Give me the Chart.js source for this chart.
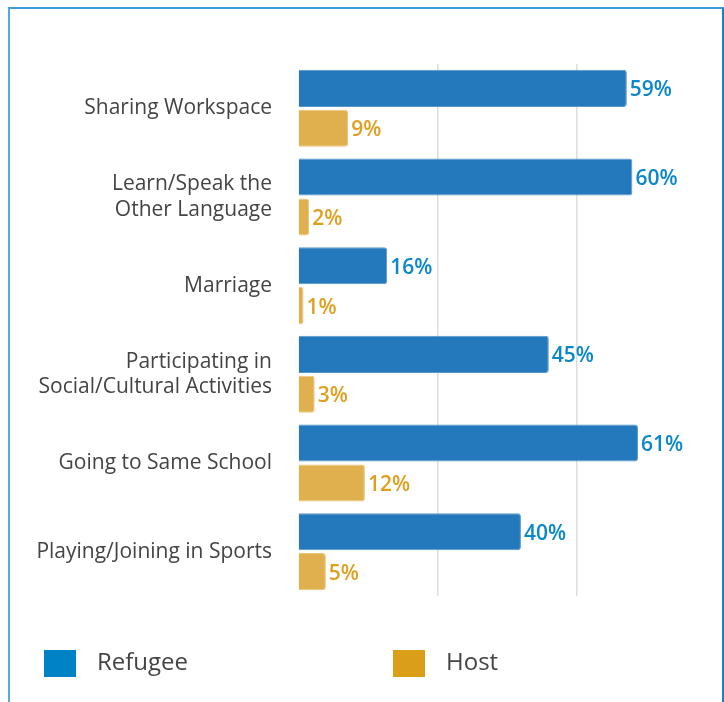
<!DOCTYPE html>
<html>
<head>
<meta charset="utf-8">
<script src="https://cdn.jsdelivr.net/npm/chart.js@4.4.1/dist/chart.umd.min.js"></script>
<style>
  html, body { margin: 0; padding: 0; background: #fff; }
  #wrap { position: relative; width: 724px; height: 702px; overflow: hidden; }
  #frame { position: absolute; left: 8px; top: 7px; width: 712px; height: 720px;
           border-left: 2px solid #52A9E3; border-top: 2px solid #3A9BDD; border-right: 2px solid #1F7FC4;
           pointer-events: none; }
  canvas { position: absolute; left: 0; top: 0; }
  .leg { position: absolute; top: 650px; height: 27px; display: flex; align-items: center;
         font-family: "Open Sans", sans-serif; font-size: 24px; color: #444; }
  .leg span.box { display: inline-block; width: 32px; height: 27px; margin-right: 21px; }
  .leg span.txt { position: relative; top: -3px; }
</style>
</head>
<body>
<div id="wrap">
  <canvas id="c" width="724" height="702"></canvas>
  <div id="frame"></div>
  <div class="leg" style="left:44px;"><span class="box" style="background:#0083C6;"></span><span class="txt">Refugee</span></div>
  <div class="leg" style="left:393px;"><span class="box" style="background:#DA9E18;"></span><span class="txt">Host</span></div>
</div>
<script>
const categories = [
  "Sharing Workspace",
  ["Learn/Speak the", "Other Language"],
  "Marriage",
  ["Participating in", "Social/Cultural Activities"],
  "Going to Same School",
  "Playing/Joining in Sports"
];
const refugeeValues = [59, 60, 16, 45, 61, 40];
const hostValues = [9, 2, 1, 3, 12, 5];
const seriesNames = ["Refugee", "Host"];
const xTicks = [0, 25, 50, 75];

const labelColors = ["#0A86CA", "#DFA021"];

const valueLabels = {
  id: 'valueLabels',
  afterDatasetsDraw(chart) {
    const ctx = chart.ctx;
    ctx.save();
    ctx.font = '600 21px "Open Sans", sans-serif';
    ctx.textBaseline = 'middle';
    ctx.textAlign = 'left';
    chart.data.datasets.forEach((ds, i) => {
      const meta = chart.getDatasetMeta(i);
      ctx.fillStyle = labelColors[i];
      meta.data.forEach((bar, j) => {
        ctx.fillText(ds.data[j] + '%', bar.x + 3, bar.y + 2);
      });
    });
    ctx.restore();
  }
};

new Chart(document.getElementById('c'), {
  type: 'bar',
  data: {
    labels: categories,
    datasets: [
      { label: seriesNames[0], data: refugeeValues, backgroundColor: '#2479BD', borderColor: '#5597CC', borderWidth: 1,
        borderRadius: { topRight: 3, bottomRight: 3 }, borderSkipped: 'start',
        categoryPercentage: 0.9, barPercentage: 0.93 },
      { label: seriesNames[1], data: hostValues, backgroundColor: '#E1B04E', borderColor: '#EAC57A', borderWidth: 1,
        borderRadius: { topRight: 3, bottomRight: 3 }, borderSkipped: 'start',
        categoryPercentage: 0.9, barPercentage: 0.93 }
    ]
  },
  options: {
    indexAxis: 'y',
    responsive: false,
    animation: false,
    layout: { padding: { left: 0, top: 64, right: 8, bottom: 106 } },
    plugins: { legend: { display: false }, tooltip: { enabled: false } },
    scales: {
      x: {
        min: xTicks[0], max: xTicks[xTicks.length - 1],
        afterBuildTicks(s) { s.ticks = xTicks.map(v => ({ value: v })); },
        ticks: { display: false },
        border: { display: false },
        grid: { drawTicks: false, color: c => (c.tick && (c.tick.value === 25 || c.tick.value === 50)) ? '#DDDDDD' : 'rgba(0,0,0,0)', lineWidth: 1.5 },
        afterFit(s) { s.height = 0; }
      },
      y: {
        border: { display: false },
        grid: { display: false, drawTicks: false },
        ticks: { color: '#444444', padding: 26, font: { family: '"Open Sans", sans-serif', size: 21, lineHeight: 1.2 } },
        afterFit(s) { s.width = 298; }
      }
    }
  },
  plugins: [valueLabels]
});
</script>
</body>
</html>
